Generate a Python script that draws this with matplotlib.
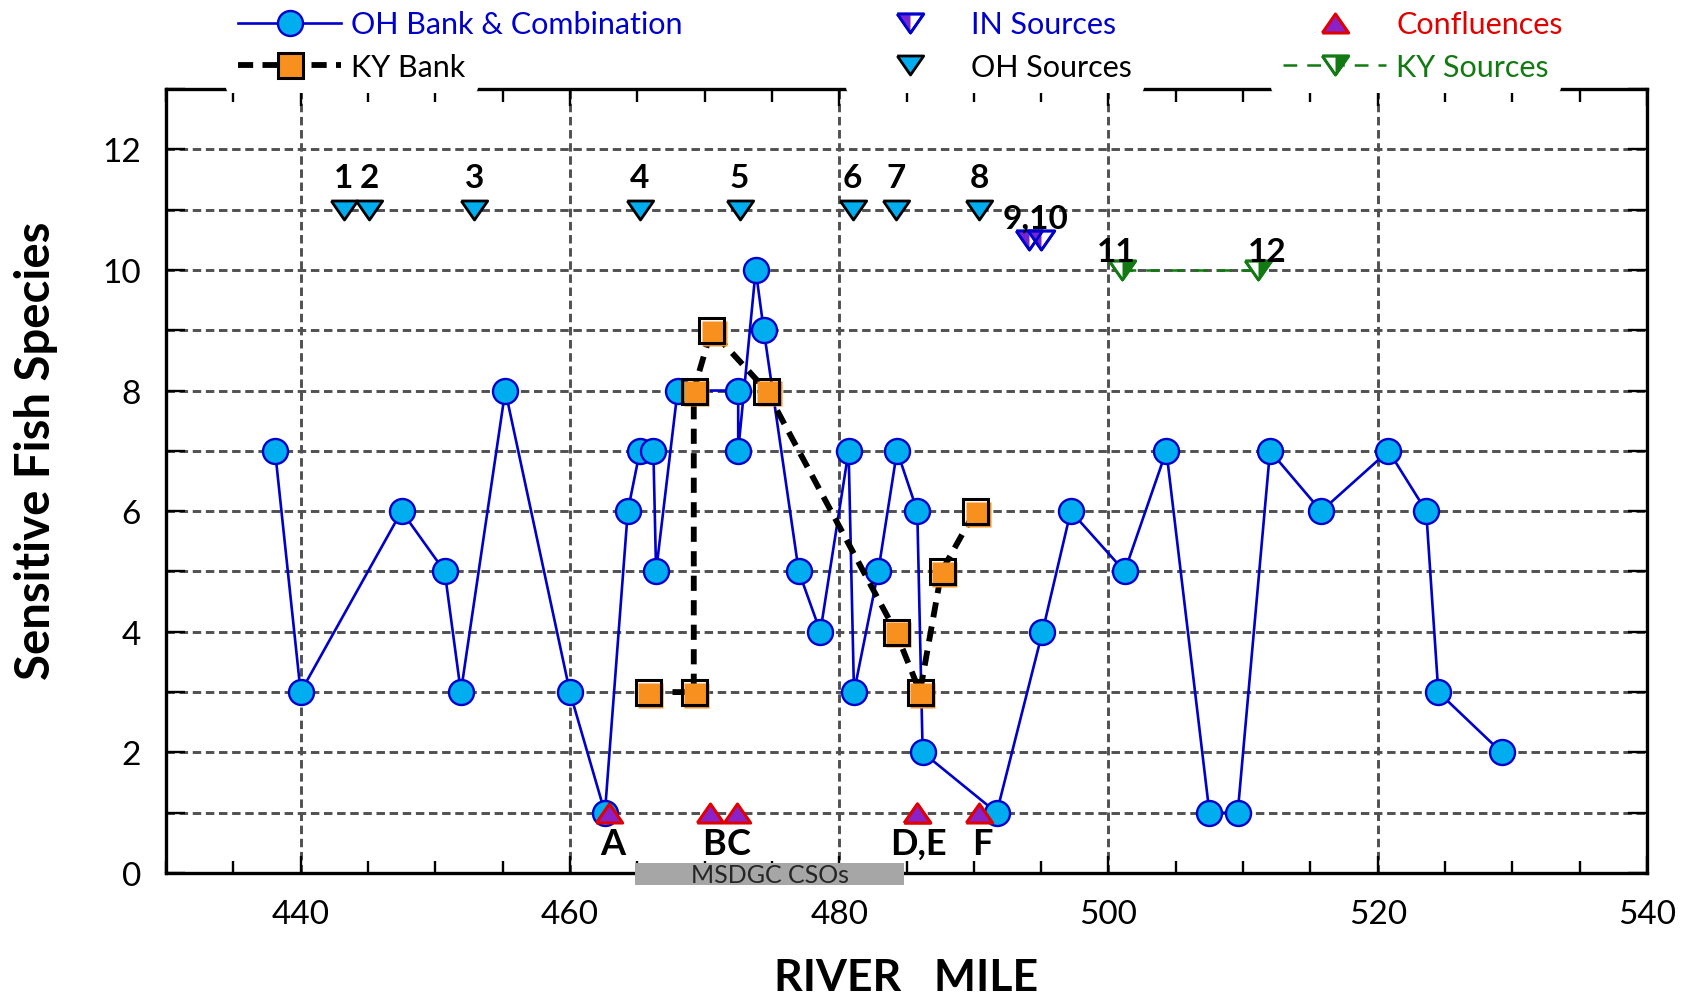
import matplotlib
matplotlib.use("Agg")
import matplotlib.pyplot as plt
from matplotlib.ticker import MultipleLocator
from matplotlib.transforms import offset_copy
from matplotlib.lines import Line2D
from matplotlib.patches import Rectangle

plt.rcParams['font.family'] = ['Lato', 'DejaVu Sans']

# ---- data -------------------------------------------------------------
oh_mile = [438.1, 440.0, 447.5, 450.7, 451.9, 455.2, 460.0, 462.6, 464.3, 465.2,
           466.2, 466.4, 468.0, 472.5, 472.5, 473.8, 474.4, 477.0, 478.6, 480.7,
           481.1, 482.9, 484.3, 485.8, 486.2, 491.7, 495.1, 497.2, 501.2, 504.3,
           507.5, 509.6, 512.0, 515.8, 520.8, 523.6, 524.5, 529.2]
oh_species = [7, 3, 6, 5, 3, 8, 3, 1, 6, 7,
              7, 5, 8, 8, 7, 10, 9, 5, 4, 7,
              3, 5, 7, 6, 2, 1, 4, 6, 5, 7,
              1, 1, 7, 6, 7, 6, 3, 2]

ky_mile = [465.8, 469.2, 469.2, 470.5, 474.6, 484.2, 486.0, 487.6, 490.1]
ky_species = [3, 3, 8, 9, 8, 4, 3, 5, 6]

oh_src_mile = [443.2, 445.1, 452.9, 465.2, 472.6, 481.0, 484.2, 490.4]
oh_src_level = [11, 11, 11, 11, 11, 11, 11, 11]
oh_src_labels = ['1', '2', '3', '4', '5', '6', '7', '8']

in_src_mile = [494.1, 495.0]
in_src_level = [10.5, 10.5]
in_src_label = '9,10'

ky_src_mile = [501.0, 511.1]
ky_src_level = [10, 10]
ky_src_labels = ['11', '12']

conf_mile = [462.9, 470.4, 472.4, 485.8, 485.8, 490.4]
conf_level = [1, 1, 1, 1, 1, 1]
conf_labels = ['A', 'B', 'C', 'D,E', 'F']
conf_label_mile = [463.2, 470.7, 472.5, 485.9, 490.6]

cso_start, cso_end = 464.8, 484.85
cso_label = 'MSDGC CSOs'

# ---- styles -----------------------------------------------------------
BLUE = '#0000CC'
CYAN = '#00AEEF'
ORANGE = '#F7901E'
PURPLE_IN = '#7424D0'
PURPLE_CF = '#8B22C8'
RED = '#E00000'
GREEN = '#137A13'
GRID = '#505050'

MS_O = 18      # circle / square size
MS_T = 19      # triangle width
LW_OH = 1.9
LW_KY = 4.2

tri_down = [(-1, 0.72), (1, 0.72), (0, -0.72), (-1, 0.72)]
tri_down_left = [(-1, 0.72), (0, 0.72), (0, -0.72), (-1, 0.72)]
tri_down_right = [(0, 0.72), (1, 0.72), (0, -0.72), (0, 0.72)]
tri_up = [(-1, -0.72), (1, -0.72), (0, 0.72), (-1, -0.72)]

fig = plt.figure(figsize=(16.98, 9.95), dpi=100)
ax = fig.add_axes([166 / 1698, 121 / 995, 1481 / 1698, 784 / 995])

ax.set_xlim(430, 540)
ax.set_ylim(0, 13)
ax.xaxis.set_major_locator(MultipleLocator(20))
ax.xaxis.set_minor_locator(MultipleLocator(5))
ax.yaxis.set_major_locator(MultipleLocator(2))
ax.yaxis.set_minor_locator(MultipleLocator(1))

ax.set_axisbelow(True)
grid_kw = dict(color=GRID, lw=2.1, linestyle=(0, (2.9, 1.6)))
ax.grid(which='major', axis='x', **grid_kw)
ax.grid(which='both', axis='y', **grid_kw)

for side in ['left', 'right', 'top', 'bottom']:
    ax.spines[side].set_linewidth(2.4)
    ax.spines[side].set_color('black')

ax.tick_params(axis='both', which='both', direction='in', top=True, right=True,
               width=1.7, colors='black', labelsize=24)
ax.tick_params(axis='x', which='major', length=12, pad=19)
ax.tick_params(axis='x', which='minor', length=9)
ax.tick_params(axis='y', which='both', length=14, pad=18)

# ---- OH bank & combination -------------------------------------------
oh_line, = ax.plot(oh_mile, oh_species, color=BLUE, lw=LW_OH, marker='o',
                   ms=MS_O, mfc=CYAN, mec=BLUE, mew=1.7, zorder=3)

# ---- KY bank ---------------------------------------------------------
ky_line, = ax.plot(ky_mile, ky_species, color='black', lw=LW_KY,
                   linestyle=(0, (2.6, 1.6)), zorder=4)
fill_shift = offset_copy(ax.transData, fig=fig, x=2.5, y=-2.5, units='dots')
ky_fill, = ax.plot(ky_mile, ky_species, ls='none', marker='s', ms=MS_O,
                   mfc=ORANGE, mec='none', transform=fill_shift, zorder=5)
ky_edge, = ax.plot(ky_mile, ky_species, ls='none', marker='s', ms=MS_O,
                   mfc='none', mec='black', mew=2.2, zorder=5)

# ---- sources ---------------------------------------------------------
oh_src, = ax.plot(oh_src_mile, oh_src_level, ls='none', marker=tri_down, ms=MS_T,
                  mfc=CYAN, mec='black', mew=2.0, zorder=6)

in_w, = ax.plot(in_src_mile, in_src_level, ls='none', marker=tri_down, ms=MS_T,
                mfc='white', mec=BLUE, mew=2.0, zorder=6)
in_h, = ax.plot(in_src_mile, in_src_level, ls='none', marker=tri_down_left, ms=MS_T,
                mfc=PURPLE_IN, mec='none', zorder=6)
in_e, = ax.plot(in_src_mile, in_src_level, ls='none', marker=tri_down, ms=MS_T,
                mfc='none', mec=BLUE, mew=2.0, zorder=6)

ky_w, = ax.plot(ky_src_mile, ky_src_level, color=GREEN, lw=1.8,
                linestyle=(0, (5.5, 4)), marker=tri_down, ms=MS_T,
                mfc='white', mec=GREEN, mew=2.0, zorder=6)
ky_h, = ax.plot(ky_src_mile, ky_src_level, ls='none', marker=tri_down_right, ms=MS_T,
                mfc=GREEN, mec='none', zorder=6)
ky_e, = ax.plot(ky_src_mile, ky_src_level, ls='none', marker=tri_down, ms=MS_T,
                mfc='none', mec=GREEN, mew=2.0, zorder=6)

conf, = ax.plot(conf_mile, conf_level, ls='none', marker=tri_up, ms=MS_T,
                mfc=PURPLE_CF, mec=RED, mew=2.2, zorder=6)

# ---- point labels ----------------------------------------------------
lab_kw = dict(ha='center', va='baseline', fontweight='bold', color='black', zorder=7)
for x, t in zip(oh_src_mile, oh_src_labels):
    ax.text(x, 11.37, t, fontsize=24, **lab_kw)
ax.text(sum(in_src_mile) / len(in_src_mile), 10.70, in_src_label, fontsize=24, **lab_kw)
for x, t in zip([500.6, 511.8], ky_src_labels):
    ax.text(x, 10.14, t, fontsize=24, **lab_kw)
for x, t in zip(conf_label_mile, conf_labels):
    ax.text(x, 0.315, t, fontsize=26, **lab_kw)

# ---- CSO reach bar below the axis ------------------------------------
ax.add_patch(Rectangle((cso_start, -0.2), cso_end - cso_start, 0.37,
                       fc='#A6A6A6', ec='none', clip_on=False, zorder=3))
ax.text((cso_start + cso_end) / 2, -0.15, cso_label, ha='center', va='baseline',
        fontsize=18, color='#262626', clip_on=False, zorder=4)

# ---- axis labels -----------------------------------------------------
ax.set_xlabel('RIVER   MILE', fontsize=32, fontweight='bold')
ax.xaxis.label.set(va='baseline')
ax.xaxis.set_label_coords(0.5, -0.149)
ax.set_ylabel('Sensitive Fish Species', fontsize=34, fontweight='bold')
ax.yaxis.label.set(rotation_mode='anchor', ha='center', va='baseline')
ax.yaxis.set_label_coords(-0.078, 0.54)

# ---- legend: one entry per box --------------------------------------
FS = 22
leg_common = dict(loc='center left', fontsize=FS, handlelength=3.37,
                  handletextpad=0.33, borderaxespad=0, borderpad=0.4,
                  numpoints=1)


def entry(handle, label, x_px, y_px, color, framed):
    lg = fig.legend([handle], [label], bbox_to_anchor=(x_px / 1698, 1 - y_px / 995),
                    labelcolor=color, frameon=framed, **leg_common)
    if framed:
        fr = lg.get_frame()
        fr.set_facecolor('white')
        fr.set_edgecolor('none')
        fr.set_alpha(1)
    return lg


h_oh = Line2D([], [], color=BLUE, lw=LW_OH, marker='o', ms=MS_O, mfc=CYAN, mec=BLUE, mew=1.7)
h_ky_l = Line2D([], [], color='black', lw=LW_KY, linestyle=(0, (2.6, 1.6)))
h_ky_f = Line2D([], [], ls='none', marker='s', ms=MS_O, mfc=ORANGE, mec='none')
h_ky_e = Line2D([], [], ls='none', marker='s', ms=MS_O, mfc='none', mec='black', mew=2.2)
h_in_w = Line2D([], [], ls='none', marker=tri_down, ms=MS_T, mfc='white', mec=BLUE, mew=2.0)
h_in_h = Line2D([], [], ls='none', marker=tri_down_left, ms=MS_T, mfc=PURPLE_IN, mec='none')
h_in_e = Line2D([], [], ls='none', marker=tri_down, ms=MS_T, mfc='none', mec=BLUE, mew=2.0)
h_ohs = Line2D([], [], ls='none', marker=tri_down, ms=MS_T, mfc=CYAN, mec='black', mew=2.0)
h_cf = Line2D([], [], ls='none', marker=tri_up, ms=MS_T, mfc=PURPLE_CF, mec=RED, mew=2.2)
h_kys_w = Line2D([], [], color=GREEN, lw=1.8, linestyle=(0, (5.5, 4)), marker=tri_down,
                 ms=MS_T, mfc='white', mec=GREEN, mew=2.0)
h_kys_h = Line2D([], [], ls='none', marker=tri_down_right, ms=MS_T, mfc=GREEN, mec='none')
h_kys_e = Line2D([], [], ls='none', marker=tri_down, ms=MS_T, mfc='none', mec=GREEN, mew=2.0)

entry(h_oh, 'OH Bank & Combination', 226, 25.5, BLUE, False)
entry((h_ky_l, h_ky_f, h_ky_e), 'KY Bank', 226, 68, 'black', True)
entry((h_in_w, h_in_h, h_in_e), 'IN Sources', 846, 25.5, BLUE, False)
entry(h_ohs, 'OH Sources', 846, 68, 'black', True)
entry(h_cf, 'Confluences', 1271, 25.5, RED, False)
entry((h_kys_w, h_kys_h, h_kys_e), 'KY Sources', 1271, 68, GREEN, True)

fig.savefig('out.png', dpi=100)
